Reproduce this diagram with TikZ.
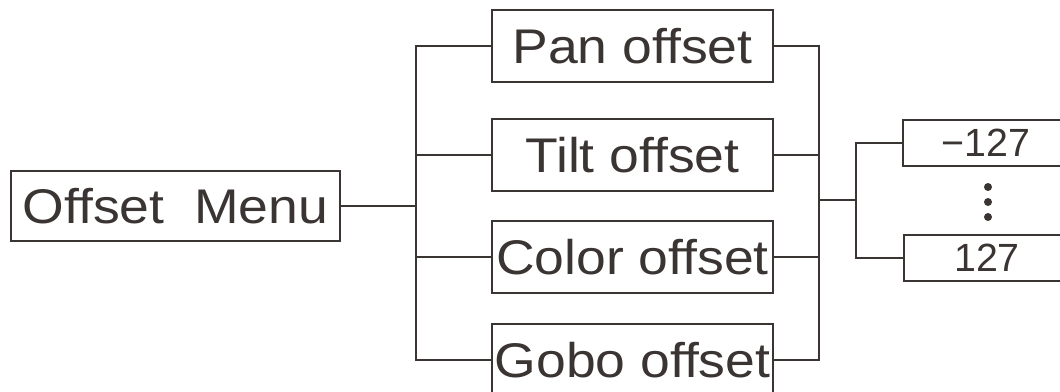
\documentclass[tikz,border=0pt]{standalone}
\usepackage{fontspec}
\setmainfont{Liberation Sans}[FakeStretch=1.1]
\newfontfamily\numfont{Liberation Sans}
\usepackage{tikz}
\definecolor{ink}{RGB}{58,52,50}

\begin{document}
\begin{tikzpicture}[x=0.75pt,y=-0.75pt,line width=1.6pt,draw=ink]
	\tikzstyle{every node}=[align=center,text=ink,inner sep=0pt]
	\tikzstyle{menubox}=[draw=ink,minimum height=53pt,font=\fontsize{36.5}{40}\selectfont]
	\tikzstyle{itembox}=[draw=ink,minimum width=210.75pt,minimum height=54pt,font=\fontsize{36.5}{40}\selectfont]
	\tikzstyle{numbox}=[draw=ink,minimum width=124.5pt,minimum height=34.5pt,font=\numfont\fontsize{29.5}{32}\selectfont]
	\useasboundingbox (0,0) rectangle (1060,392);
	\node[menubox,minimum width=246.75pt] (menu) at (175.5,206) {Offset\ \ Menu};
	\node[itembox] (pan) at (632.5,46) {Pan offset};
	\node[itembox] (tilt) at (632.5,155) {Tilt offset};
	\node[itembox] (color) at (632.5,257) {Color offset};
	\node[itembox] (gobo) at (632.5,360) {Gobo offset};
	\node[numbox] (neg) at (986,143) {\char"2212 127};
	\node[numbox] (pos) at (987,258) {127};
	\draw (menu.east) -- (416,206) coordinate (lbus);
	\draw (pan.west) -| (lbus);
	\draw (tilt.west) -| (lbus);
	\draw (color.west) -| (lbus);
	\draw (gobo.west) -| (lbus);
	\coordinate (rbus) at (819,200);
	\draw (pan.east) -| (rbus);
	\draw (tilt.east) -| (rbus);
	\draw (color.east) -| (rbus);
	\draw (gobo.east) -| (rbus);
	\draw (rbus) -- (856,200) coordinate (nbus);
	\draw (neg.west) -| (nbus);
	\draw (pos.west) -| (nbus);
	\foreach \y in {187,202,217}
		\fill[ink] (988,\y) circle (4);
\end{tikzpicture}
\end{document}
